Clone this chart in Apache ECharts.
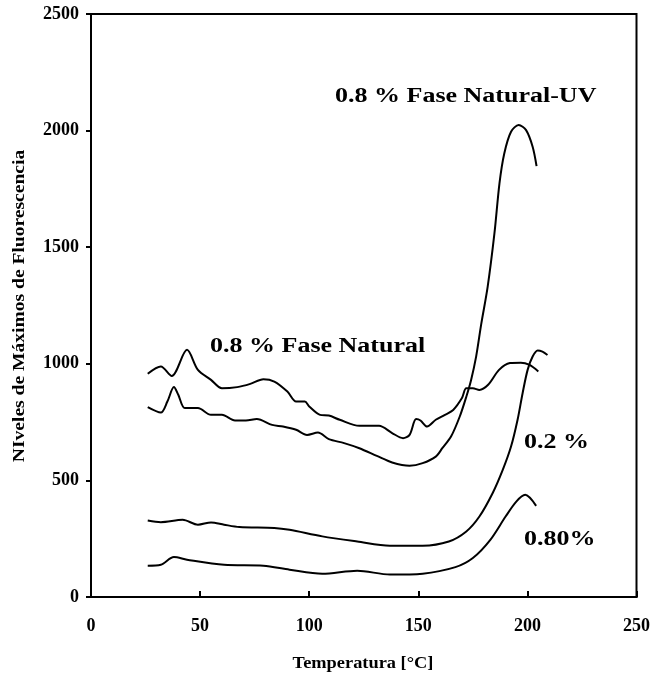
<!DOCTYPE html>
<html>
<head>
<meta charset="utf-8">
<script src="https://cdn.jsdelivr.net/npm/echarts@6/dist/echarts.min.js"></script>
<style>
  html, body { margin: 0; padding: 0; background: #ffffff; }
  #chart { width: 653px; height: 678px; }
</style>
</head>
<body>
<div id="chart"></div>
<script>
// Temperature (°C) and fluorescence maxima for each sample
const naturalTemp = [26, 32, 37, 44, 49, 55, 60, 67, 73, 79, 84, 90, 94, 98, 100, 105, 109, 114, 123, 132, 138, 143, 146, 149, 151, 154, 158, 162, 166, 170, 172, 175, 178, 182, 187, 192, 197, 201, 205];
const naturalVal  = [957, 988, 948, 1060, 974, 931, 895, 900, 914, 934, 924, 881, 838, 838, 817, 781, 778, 760, 734, 734, 703, 681, 695, 763, 757, 731, 760, 780, 802, 853, 895, 895, 888, 910, 974, 1003, 1005, 995, 967];

const uvTemp = [26, 32, 35, 38, 40, 43, 49, 55, 60, 66, 71, 76, 83, 88, 94, 99, 104, 109, 116, 123, 131, 138, 146, 152, 158, 161, 165, 169, 172, 174.2, 176.5, 178.8, 181.8, 184.9, 187.2, 189.4, 192.5, 196, 199.4, 202.4, 204.2];
const uvVal  = [814, 791, 838, 900, 867, 810, 810, 781, 781, 757, 757, 763, 738, 731, 717, 695, 705, 677, 660, 638, 605, 577, 563, 574, 602, 638, 688, 774, 859, 931, 1031, 1168, 1331, 1560, 1774, 1902, 1995, 2024, 2002, 1931, 1848];

const p02Temp = [26, 32, 42, 49, 55, 61, 68, 84, 91, 106, 122, 137, 152, 164, 172, 178, 184.1, 188.7, 192.5, 195.5, 197.8, 200.1, 202.4, 204.7, 206.9, 209.2];
const p02Val  = [328, 321, 331, 310, 320, 310, 300, 296, 288, 260, 238, 220, 220, 238, 281, 345, 446, 545, 645, 760, 874, 974, 1031, 1057, 1052, 1038];

const p080Temp = [26, 32, 38, 44, 61, 79, 91, 106, 122, 137, 152, 167, 175, 183, 190, 195, 199, 204];
const p080Val  = [134, 138, 171, 160, 138, 134, 117, 100, 113, 96, 100, 128, 167, 245, 345, 410, 438, 391];

// Axis tick values
const xTicks = [0, 50, 100, 150, 200, 250];
const yTicks = [0, 500, 1000, 1500, 2000, 2500];

const serif = '"Liberation Serif", "Times New Roman", serif';

function pairs(xs, ys) {
  return xs.map((x, i) => [x, ys[i]]);
}

function curve(name, xs, ys) {
  return {
    name: name,
    type: 'line',
    data: pairs(xs, ys),
    smooth: 0.3,
    showSymbol: false,
    silent: true,
    lineStyle: { color: '#000000', width: 2 },
    z: 3
  };
}

function label(text, x, y, size, sx) {
  return {
    type: 'text',
    x: x,
    y: y,
    scaleX: sx,
    style: {
      text: text,
      font: 'bold ' + size + 'px ' + serif,
      fill: '#000000',
      align: 'left',
      verticalAlign: 'middle'
    },
    z: 10
  };
}

const chart = echarts.init(document.getElementById('chart'), null, { renderer: 'canvas' });

chart.setOption({
  backgroundColor: '#ffffff',
  animation: false,
  grid: {
    left: 91, right: 15, top: 14, bottom: 81,
    show: true,
    borderColor: '#000000',
    borderWidth: 2,
    backgroundColor: 'transparent'
  },
  xAxis: {
    type: 'value',
    min: xTicks[0],
    max: xTicks[xTicks.length - 1],
    interval: xTicks[1] - xTicks[0],
    axisLine: { show: true, onZero: false, lineStyle: { color: '#000000', width: 2 } },
    axisTick: { show: true, inside: true, length: 6, lineStyle: { color: '#000000', width: 2 } },
    axisLabel: {
      color: '#000000', fontFamily: serif, fontWeight: 'bold', fontSize: 18, margin: 20,
      formatter: v => String(v)
    },
    splitLine: { show: false }
  },
  yAxis: {
    type: 'value',
    min: yTicks[0],
    max: yTicks[yTicks.length - 1],
    interval: yTicks[1] - yTicks[0],
    axisLine: { show: true, lineStyle: { color: '#000000', width: 2 } },
    axisTick: { show: true, inside: false, length: 5, lineStyle: { color: '#000000', width: 2 } },
    axisLabel: {
      color: '#000000', fontFamily: serif, fontWeight: 'bold', fontSize: 18, margin: 12,
      formatter: v => String(v)
    },
    splitLine: { show: false }
  },
  series: [
    curve('0.8 % Fase Natural', naturalTemp, naturalVal),
    curve('0.8 % Fase Natural-UV', uvTemp, uvVal),
    curve('0.2 %', p02Temp, p02Val),
    curve('0.80%', p080Temp, p080Val)
  ],
  graphic: [
    label('0.8 % Fase Natural-UV', 335, 97, 20, 1.3),
    label('0.8 % Fase Natural', 210, 347, 20, 1.3),
    label('0.2 %', 524, 443, 20, 1.3),
    label('0.80%', 524, 540, 20, 1.3),
    {
      type: 'text',
      x: 363, y: 664,
      scaleX: 1.08,
      style: {
        text: 'Temperatura [°C]',
        font: 'bold 17px ' + serif,
        fill: '#000000',
        align: 'center',
        verticalAlign: 'middle'
      },
      z: 10
    },
    {
      type: 'text',
      x: 20, y: 306,
      rotation: Math.PI / 2,
      scaleX: 1.15,
      style: {
        text: 'NIveles de Máximos de Fluorescencia',
        font: 'bold 17px ' + serif,
        fill: '#000000',
        align: 'center',
        verticalAlign: 'middle'
      },
      z: 10
    }
  ]
});
</script>
</body>
</html>
